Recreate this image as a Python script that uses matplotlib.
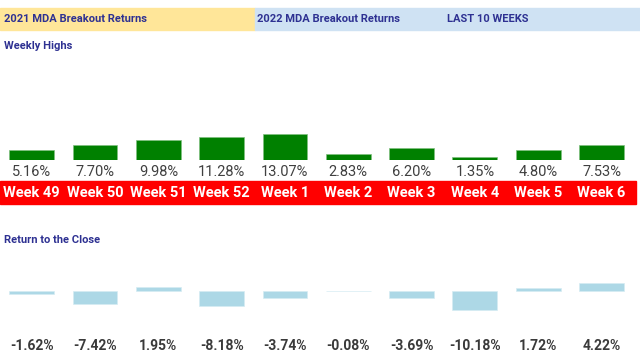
import matplotlib.pyplot as plt
import matplotlib.transforms as mtransforms

# data
weeks = ["Week 49", "Week 50", "Week 51", "Week 52", "Week 1",
         "Week 2", "Week 3", "Week 4", "Week 5", "Week 6"]
weekly_highs = [5.16, 7.70, 9.98, 11.28, 13.07, 2.83, 6.20, 1.35, 4.80, 7.53]
close_returns = [-1.62, -7.42, 1.95, -8.18, -3.74, -0.08, -3.69, -10.18, 1.72, 4.22]

plt.rcParams['font.family'] = ['Roboto', 'DejaVu Sans']

W, H = 640, 362
fig = plt.figure(figsize=(W / 100, H / 100), dpi=100)
fig.patch.set_facecolor("white")

navy = "#2E3192"


def px_box(x0, y0, x1, y1):
    # pixel box (top-left origin) -> figure fraction rect
    return [x0 / W, 1 - y1 / H, (x1 - x0) / W, (y1 - y0) / H]


# header bands
fig.patches.append(plt.Rectangle((0, 1 - 30 / H), 255 / W, 22 / H,
                                 transform=fig.transFigure, color="#FFE699", zorder=-1))
fig.patches.append(plt.Rectangle((255 / W, 1 - 30 / H), 385 / W, 22 / H,
                                 transform=fig.transFigure, color="#CFE2F3", zorder=-1))
fig.text(4 / W, 1 - 19.5 / H, "2021 MDA Breakout Returns", color=navy,
         fontsize=8, fontweight="bold", va="center", ha="left")
fig.text(257 / W, 1 - 19.5 / H, "2022 MDA Breakout Returns", color=navy,
         fontsize=8, fontweight="bold", va="center", ha="left")
fig.text(447 / W, 1 - 19.5 / H, "LAST 10 WEEKS", color=navy,
         fontsize=8, fontweight="bold", va="center", ha="left")

fig.text(4 / W, 1 - 46 / H, "Weekly Highs", color=navy,
         fontsize=8, fontweight="bold", va="center", ha="left")
fig.text(4 / W, 1 - 240 / H, "Return to the Close", color=navy,
         fontsize=8, fontweight="bold", va="center", ha="left")

x = list(range(len(weeks)))
col_w = 63.33

# red week band
fig.patches.append(plt.Rectangle((0, 1 - 204 / H), 636 / W, 23 / H,
                                 transform=fig.transFigure, color="#FF0000", zorder=-1))

# top panel: weekly highs, 2 px per %
ax1 = fig.add_axes(px_box(0, 100, 10 * col_w, 160))
ax1.bar(x, weekly_highs, width=0.71, color="#008000", edgecolor="#7fbf7f", linewidth=0.5)
ax1.set_xlim(-0.5, 9.5)
ax1.set_ylim(0, 30)
ax1.axis("off")
tr1 = mtransforms.blended_transform_factory(ax1.transData, fig.transFigure)
for i, v in enumerate(weekly_highs):
    fig.text(i, 1 - 171.5 / H, f"{v:.2f}%", transform=tr1, ha="center", va="center",
             fontsize=10.5, color="#404040", zorder=3)
    fig.text(i, 1 - 193 / H, weeks[i], transform=tr1, ha="center", va="center",
             fontsize=10.5, color="white", fontweight="bold", zorder=3)

# bottom panel: return to the close, ~1.85 px per %
ax2 = fig.add_axes(px_box(0, 260, 10 * col_w, 321))
ax2.bar(x, close_returns, width=0.71, color="#ADD8E6", edgecolor="#d6ecf3", linewidth=0.5)
ax2.set_xlim(-0.5, 9.5)
ax2.set_ylim(-(321 - 290.7) / 1.85, (290.7 - 260) / 1.85)
ax2.axis("off")
tr2 = mtransforms.blended_transform_factory(ax2.transData, fig.transFigure)
for i, v in enumerate(close_returns):
    fig.text(i, 1 - 346 / H, f"{v:.2f}%", transform=tr2, ha="center", va="center",
             fontsize=10, color="#3a3a3a", fontweight="bold", zorder=3)

fig.savefig("out.png", dpi=100)
